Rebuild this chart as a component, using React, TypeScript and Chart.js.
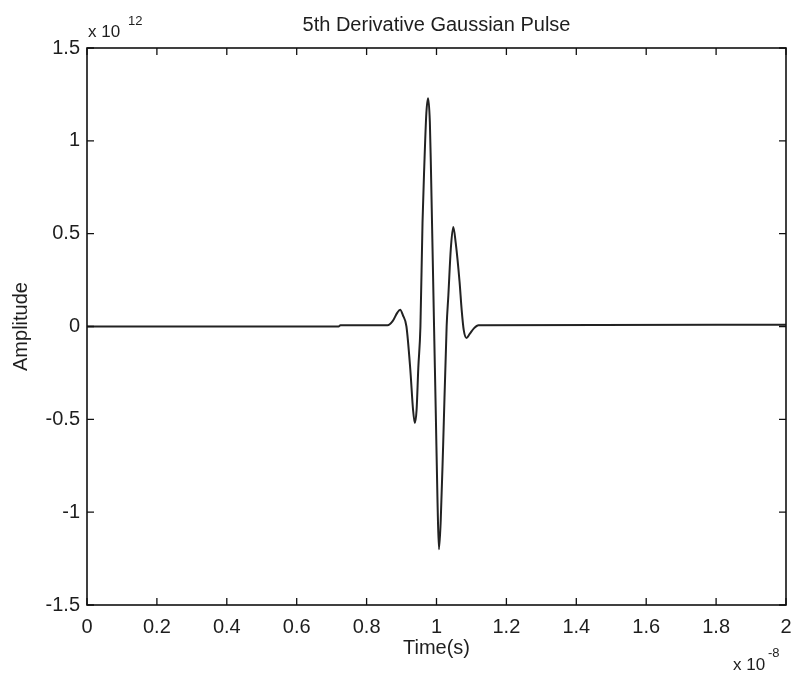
import { useEffect, useRef } from "react";
import { Chart, registerables } from "chart.js";

Chart.register(...registerables);

// Time in units of 1e-8 s
const timeE8 = [
  0, 0.72, 0.725, 0.86, 0.875, 0.888, 0.896, 0.904, 0.914, 0.925, 0.933, 0.938, 0.943,
  0.948, 0.954, 0.96, 0.965, 0.971, 0.976, 0.981, 0.984, 0.993, 0.998, 1.003, 1.007,
  1.012, 1.019, 1.029, 1.034, 1.041, 1.048, 1.055, 1.066, 1.072, 1.078, 1.086, 1.095,
  1.107, 1.12, 2.0,
];
// Amplitude in units of 1e12
const amplitudeE12 = [
  0, 0, 0.007, 0.007, 0.03, 0.075, 0.09, 0.06, 0.0, -0.23, -0.45, -0.52, -0.45,
  -0.22, 0.0, 0.56, 0.86, 1.15, 1.23, 1.1, 0.86, 0.0, -0.47, -0.95, -1.2,
  -1.05, -0.64, 0.0, 0.17, 0.42, 0.536, 0.45, 0.24, 0.09, -0.02, -0.062, -0.04,
  -0.01, 0.007, 0.01,
];

const xTicks = [0, 0.2, 0.4, 0.6, 0.8, 1, 1.2, 1.4, 1.6, 1.8, 2];
const yTicks = [-1.5, -1, -0.5, 0, 0.5, 1, 1.5];

const titleText = "5th Derivative Gaussian Pulse";
const xLabel = "Time(s)";
const yLabel = "Amplitude";
const yExponent = "12";
const xExponent = "-8";

const FONT = '"Liberation Sans", Arial, Helvetica, sans-serif';
const INK = "#1e1e1e";

const framePlugin = {
  id: "matlabFrame",
  afterDraw(chart: any) {
    const { ctx, chartArea, scales } = chart;
    const { left, right, top, bottom } = chartArea;
    const x = scales.x;
    const y = scales.y;
    ctx.save();
    ctx.strokeStyle = "#111";
    ctx.lineWidth = 1.6;
    ctx.strokeRect(left, top, right - left, bottom - top);
    ctx.lineWidth = 1.3;
    ctx.beginPath();
    xTicks.forEach((v) => {
      const px = x.getPixelForValue(v);
      ctx.moveTo(px, bottom);
      ctx.lineTo(px, bottom - 7);
      ctx.moveTo(px, top);
      ctx.lineTo(px, top + 7);
    });
    yTicks.forEach((v) => {
      const py = y.getPixelForValue(v);
      ctx.moveTo(left, py);
      ctx.lineTo(left + 7, py);
      ctx.moveTo(right, py);
      ctx.lineTo(right - 7, py);
    });
    ctx.stroke();

    ctx.fillStyle = INK;
    ctx.textBaseline = "alphabetic";
    ctx.textAlign = "center";
    ctx.font = `20px ${FONT}`;
    ctx.fillText(titleText, (left + right) / 2, 31);
    ctx.fillText(xLabel, (left + right) / 2, 654);
    ctx.save();
    ctx.translate(27, (top + bottom) / 2);
    ctx.rotate(-Math.PI / 2);
    ctx.fillText(yLabel, 0, 0);
    ctx.restore();

    ctx.textAlign = "left";
    ctx.font = `17px ${FONT}`;
    ctx.fillText("x 10", 88, 37);
    ctx.font = `13px ${FONT}`;
    ctx.fillText(yExponent, 128, 25);
    ctx.font = `17px ${FONT}`;
    ctx.fillText("x 10", 733, 670);
    ctx.font = `13px ${FONT}`;
    ctx.fillText(xExponent, 768, 657);
    ctx.restore();
  },
};

export default function App() {
  const ref = useRef<HTMLCanvasElement | null>(null);

  useEffect(() => {
    document.body.style.margin = "0";
    const canvas = ref.current;
    if (!canvas) return;
    const points = timeE8.map((t, i) => ({ x: t, y: amplitudeE12[i] }));
    const chart = new Chart(canvas, {
      type: "line",
      data: {
        datasets: [
          {
            data: points,
            borderColor: "#222",
            borderWidth: 2,
            pointRadius: 0,
            cubicInterpolationMode: "monotone",
            fill: false,
          },
        ],
      },
      options: {
        responsive: false,
        animation: false,
        devicePixelRatio: 1,
        layout: { padding: { top: 48, right: 6, left: 0, bottom: 0 } },
        plugins: {
          legend: { display: false },
          title: { display: false },
          tooltip: { enabled: false },
        },
        scales: {
          x: {
            type: "linear",
            min: 0,
            max: 2,
            afterBuildTicks: (s: any) => {
              s.ticks = xTicks.map((v) => ({ value: v }));
            },
            afterFit: (s: any) => {
              s.height = 68;
              s.paddingLeft = 0;
              s.paddingRight = 0;
            },
            grid: { display: false, drawTicks: false },
            border: { display: false },
            ticks: {
              padding: 10,
              color: INK,
              font: { family: FONT, size: 20 },
              maxRotation: 0,
              autoSkip: false,
              callback: (v: any) => String(Math.round(Number(v) * 10) / 10),
            },
          },
          y: {
            type: "linear",
            min: -1.5,
            max: 1.5,
            afterBuildTicks: (s: any) => {
              s.ticks = yTicks.map((v) => ({ value: v }));
            },
            afterFit: (s: any) => {
              s.width = 87;
              s.paddingTop = 0;
              s.paddingBottom = 0;
            },
            grid: { display: false, drawTicks: false },
            border: { display: false },
            ticks: {
              padding: 7,
              color: INK,
              font: { family: FONT, size: 20 },
              autoSkip: false,
              callback: (v: any) => String(Math.round(Number(v) * 10) / 10),
            },
          },
        },
      },
      plugins: [framePlugin],
    } as any);
    return () => chart.destroy();
  }, []);

  return (
    <canvas
      ref={ref}
      width={792}
      height={673}
      style={{ display: "block", width: 792, height: 673, background: "#fff" }}
    />
  );
}
